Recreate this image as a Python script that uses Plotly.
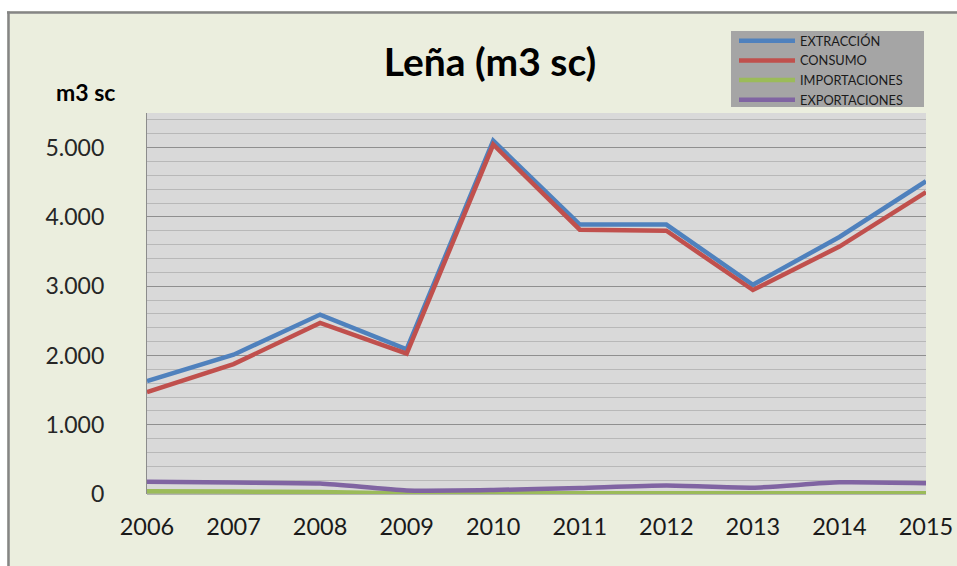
import plotly.graph_objects as go

years = [2006, 2007, 2008, 2009, 2010, 2011, 2012, 2013, 2014, 2015]
extraccion = [1630, 2010, 2590, 2090, 5100, 3890, 3890, 3020, 3710, 4515]
consumo = [1470, 1875, 2470, 2025, 5045, 3815, 3800, 2945, 3572, 4358]
importaciones = [38, 35, 28, 8, 12, 12, 12, 10, 10, 10]
exportaciones = [178, 165, 150, 52, 58, 88, 122, 92, 168, 155]

series_names = ["EXTRACCIÓN", "CONSUMO", "IMPORTACIONES", "EXPORTACIONES"]
series_colors = ["#4F81BD", "#C0504D", "#9BBB59", "#8064A2"]
y_ticks = [0, 1000, 2000, 3000, 4000, 5000]
y_ticktext = ["0", "1.000", "2.000", "3.000", "4.000", "5.000"]

FONT = "Lato"
fig = go.Figure()
for name, vals, col in zip(series_names, [extraccion, consumo, importaciones, exportaciones], series_colors):
    fig.add_trace(go.Scatter(
        x=years, y=vals, name=name, mode="lines",
        line=dict(color=col, width=4.5, shape="spline" if name in ("EXPORTACIONES", "IMPORTACIONES") else "linear", smoothing=0.6),
    ))

L, R, T, B = 147, 31, 113, 72
W, H = 957, 566
pw, ph = W - L - R, H - T - B

def px2x(p):
    return (p - L) / pw

def px2y(p):
    return (H - B - p) / ph

fig.update_layout(
    width=W, height=H,
    margin=dict(l=L, r=R, t=T, b=B, pad=0, autoexpand=False),
    paper_bgcolor="#EBEEDE",
    plot_bgcolor="#D9D9D9",
    font=dict(family=FONT, color="#262626"),
    showlegend=True,
    legend=dict(
        x=px2x(734), y=px2y(26), xanchor="left", yanchor="top",
        bgcolor="rgba(0,0,0,0)", font=dict(size=12.8, color="#1a1a1a", family=FONT),
        itemwidth=56, tracegroupgap=0, traceorder="normal",
    ),
    title=dict(text="<b>Leña (m3 sc)</b>", x=490 / W, y=1 - 62 / H,
               xanchor="center", yanchor="middle", xref="container", yref="container",
               font=dict(size=39, color="#000000", family=FONT)),
    xaxis=dict(
        range=[2006, 2015], tickmode="array", tickvals=years,
        ticktext=[str(y) for y in years], showgrid=False, zeroline=False,
        showline=False, ticks="", tickfont=dict(size=23.5, color="#1a1a1a"),
        ticklabelstandoff=16, automargin=False,
    ),
    yaxis=dict(
        range=[0, 5500], tickmode="array", tickvals=y_ticks, ticktext=y_ticktext,
        showgrid=True, gridcolor="#8F8F8F", gridwidth=1.3,
        minor=dict(dtick=200, showgrid=True, gridcolor="#B8B8B8", gridwidth=1.3),
        zeroline=False, showline=True, linecolor="#8C8C8C", linewidth=1.3,
        ticks="", tickfont=dict(size=23, color="#262626"), ticklabelstandoff=37,
        automargin=False,
    ),
    annotations=[dict(
        text="<b>m3 sc</b>", x=px2x(85), y=px2y(92), xref="paper", yref="paper",
        xanchor="center", yanchor="middle", showarrow=False,
        font=dict(size=23, color="#000000", family=FONT),
    )],
    shapes=[
        dict(type="rect", xref="paper", yref="paper", x0=px2x(731), x1=px2x(924),
             y0=px2y(107), y1=px2y(31), fillcolor="#A5A5A5", line=dict(width=0), layer="below"),
        dict(type="rect", xref="paper", yref="paper", x0=px2x(-5), x1=px2x(W + 5),
             y0=px2y(11), y1=px2y(-5), fillcolor="white", line=dict(width=0), layer="above"),
        dict(type="rect", xref="paper", yref="paper", x0=px2x(-5), x1=px2x(7),
             y0=px2y(H + 5), y1=px2y(-5), fillcolor="white", line=dict(width=0), layer="above"),
        dict(type="line", xref="paper", yref="paper", x0=px2x(7), x1=px2x(W + 5),
             y0=px2y(12.5), y1=px2y(12.5), line=dict(color="#858585", width=2.5), layer="above"),
        dict(type="line", xref="paper", yref="paper", x0=px2x(8.5), x1=px2x(8.5),
             y0=px2y(11.5), y1=px2y(H + 5), line=dict(color="#858585", width=2.5), layer="above"),
        dict(type="line", xref="paper", yref="paper", x0=0, x1=1,
             y0=0, y1=0, line=dict(color="#A0A0A0", width=1.3), layer="below"),
    ],
)

fig.write_html("out.html", config={"displayModeBar": False},
               post_script="document.body.style.margin='0';document.body.style.overflow='hidden';")
